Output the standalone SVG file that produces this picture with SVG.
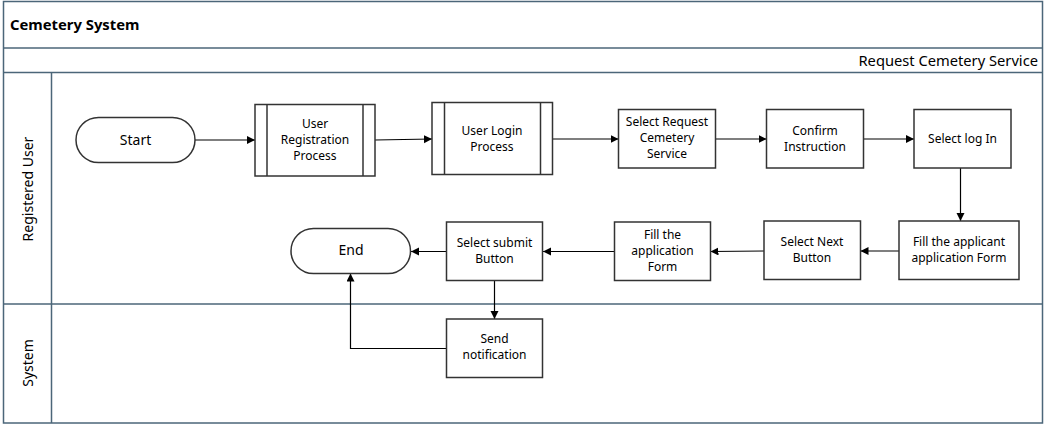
<svg xmlns="http://www.w3.org/2000/svg" width="1049" height="425" viewBox="0 0 1049 425">
<defs>
<marker id="arr" markerWidth="9" markerHeight="9" refX="8" refY="4" orient="auto" markerUnits="userSpaceOnUse">
<path d="M0,0 L8,4 L0,8 z" fill="#000"/>
</marker>
<style>
.frame{fill:none;stroke:#4b6679;stroke-width:1.5}
.box{fill:#fff;stroke:#333;stroke-width:1.5}
.t{font-family:"Noto Sans","Open Sans","DejaVu Sans",sans-serif;font-size:12px;fill:#000;text-anchor:middle}
.tl{font-family:"Noto Sans","Open Sans","DejaVu Sans",sans-serif;font-size:14px;fill:#000;text-anchor:middle}
.c{fill:none;stroke:#000;stroke-width:1.2;marker-end:url(#arr)}
</style>
</defs>
<rect width="1049" height="425" fill="#fff"/>
<g id="pool">
<rect class="frame" x="3.5" y="1.5" width="1039" height="421.5"/>
<line class="frame" x1="3.5" y1="48" x2="1042.5" y2="48"/>
<line class="frame" x1="3.5" y1="72.5" x2="1042.5" y2="72.5"/>
<line class="frame" x1="3.5" y1="304" x2="1042.5" y2="304"/>
<line class="frame" x1="51.5" y1="72.5" x2="51.5" y2="423"/>
<text x="10" y="30" font-family="'Noto Sans','Open Sans',sans-serif" font-size="14.8" font-weight="bold" fill="#000">Cemetery System</text>
<text x="1038" y="66" font-family="'Noto Sans','Open Sans',sans-serif" font-size="14.7" fill="#000" text-anchor="end">Request Cemetery Service</text>
</g>
<g id="lane-registered-user">
<text class="tl" transform="translate(33,189) rotate(-90)" font-size="14.6">Registered User</text>
</g>
<g id="lane-system">
<text class="tl" transform="translate(33,363) rotate(-90)" font-size="14.6">System</text>
</g>
<g id="connectors">
<path class="c" d="M195,140 L255,140"/>
<path class="c" d="M375,140 L432,139"/>
<path class="c" d="M552.5,139 L618.5,139"/>
<path class="c" d="M715.5,139 L766.5,139"/>
<path class="c" d="M863.5,139 L914,139"/>
<path class="c" d="M960.5,168 L960.5,221"/>
<path class="c" d="M899,251 L860.5,251"/>
<path class="c" d="M764,251 L710.5,251.5"/>
<path class="c" d="M614.5,251.5 L543,251.5"/>
<path class="c" d="M446.5,251.5 L411,251.5"/>
<path class="c" d="M494.5,280.5 L494.5,319"/>
<path class="c" d="M446.5,348.5 L350.5,348.5 L350.5,273.5"/>
</g>
<g id="start">
<rect class="box" x="76" y="117.5" width="119" height="45" rx="22.5"/>
<text class="tl" x="135.5" y="145">Start</text>
</g>
<g id="user-registration">
<rect class="box" x="255" y="104.5" width="120" height="71.5"/>
<line class="box" x1="267" y1="104.5" x2="267" y2="176"/>
<line class="box" x1="363" y1="104.5" x2="363" y2="176"/>
<text class="t" x="315" y="128">User</text>
<text class="t" x="315" y="144">Registration</text>
<text class="t" x="315" y="160">Process</text>
</g>
<g id="user-login">
<rect class="box" x="432" y="102.5" width="120.5" height="72"/>
<line class="box" x1="444.5" y1="102.5" x2="444.5" y2="174.5"/>
<line class="box" x1="540.5" y1="102.5" x2="540.5" y2="174.5"/>
<text class="t" x="492" y="135">User Login</text>
<text class="t" x="492" y="151">Process</text>
</g>
<g id="select-request">
<rect class="box" x="618.5" y="109.5" width="97" height="58.5"/>
<text class="t" x="667" y="126">Select Request</text>
<text class="t" x="667" y="142">Cemetery</text>
<text class="t" x="667" y="158">Service</text>
</g>
<g id="confirm-instruction">
<rect class="box" x="766.5" y="109.5" width="97" height="58.5"/>
<text class="t" x="815" y="134.5">Confirm</text>
<text class="t" x="815" y="150.5">Instruction</text>
</g>
<g id="select-login">
<rect class="box" x="914" y="109.5" width="97" height="58.5"/>
<text class="t" x="962.5" y="142.5">Select log In</text>
</g>
<g id="fill-applicant">
<rect class="box" x="899" y="221" width="120" height="58.5"/>
<text class="t" x="959" y="245.5">Fill the applicant</text>
<text class="t" x="959" y="261.5">application Form</text>
</g>
<g id="select-next">
<rect class="box" x="764" y="221" width="96.5" height="58.5"/>
<text class="t" x="812" y="245.5">Select Next</text>
<text class="t" x="812" y="261.5">Button</text>
</g>
<g id="fill-application">
<rect class="box" x="614.5" y="222" width="96" height="58.5"/>
<text class="t" x="662.5" y="238.5">Fill the</text>
<text class="t" x="662.5" y="254.5">application</text>
<text class="t" x="662.5" y="270.5">Form</text>
</g>
<g id="select-submit">
<rect class="box" x="446.5" y="222" width="96" height="58.5"/>
<text class="t" x="494.5" y="246.5">Select submit</text>
<text class="t" x="494.5" y="262.5">Button</text>
</g>
<g id="end">
<rect class="box" x="291" y="228.5" width="119.5" height="45" rx="22.5"/>
<text class="tl" x="351" y="255">End</text>
</g>
<g id="send-notification">
<rect class="box" x="446.5" y="319" width="96" height="58.5"/>
<text class="t" x="494.5" y="342.5">Send</text>
<text class="t" x="494.5" y="358.5">notification</text>
</g>
</svg>
